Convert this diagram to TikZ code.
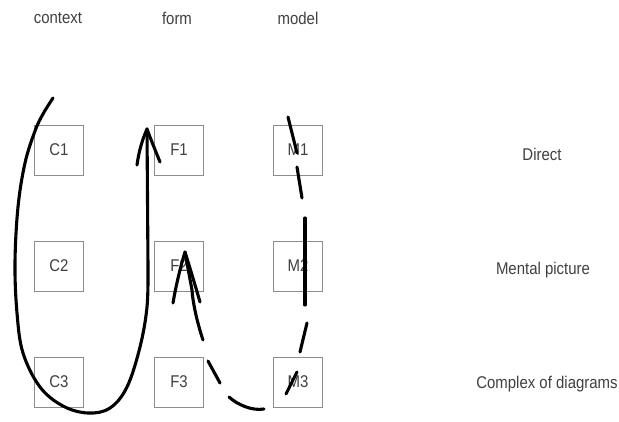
\documentclass[tikz,border=0pt]{standalone}
\usepackage{fontspec}
\setmainfont{Liberation Sans}[FakeStretch=0.88]
\begin{document}
\begin{tikzpicture}[x=1pt,y=-1pt,
  lbl/.style={font=\fontsize{17}{19}\selectfont, text=black!75, inner sep=0pt},
  cell/.style={draw=black!45, line width=0.9pt, minimum width=49pt, minimum height=50pt,
               font=\fontsize{17}{19}\selectfont, text=black!75, inner sep=0pt},
  pen/.style={draw=black, line width=3.1pt, line cap=round, line join=round}]
\useasboundingbox (0,0) rectangle (619,421);

% column headings
\node[lbl] (hc) at (58,18) {context};
\node[lbl] (hf) at (177,18) {form};
\node[lbl] (hm) at (298,18) {model};

% grid of cells
\node[cell] (C1) at (59,150) {C1};
\node[cell] (F1) at (179,150) {F1};
\node[cell] (M1) at (298,150) {M1};
\node[cell] (C2) at (59,266) {C2};
\node[cell] (F2) at (179,266) {F2};
\node[cell] (M2) at (298,266) {M2};
\node[cell] (C3) at (59,382) {C3};
\node[cell] (F3) at (179,382) {F3};
\node[cell] (M3) at (298,382) {M3};

% row labels
\node[lbl] (rd) at (542,154) {Direct};
\node[lbl] (rm) at (543,270) {Mental picture};
\node[lbl] (rc) at (547,384) {Complex of diagrams};

% solid loop around the context column, rising beside the form column
\draw[pen] plot[smooth, tension=0.6] coordinates {
  (53,98) (43,114) (35,131) (25,163) (18,207) (15,263) (17,313) (23,353)
  (40,387) (63,406) (88,413) (110,408) (127,387) (140,347) (147,307) (148,267)}
  -- (147,129);
\draw[pen] (137,165) .. controls (139,150) and (143,138) .. (147,129)
           .. controls (151,140) and (156,152) .. (160,162);

% dashed stroke down the model column, back up into F2
\draw[pen] (288,117) -- (297,153);
\draw[pen] (297,167) -- (302,198);
\draw[pen] (305,218) -- (305,305);
\draw[pen] (307,323) -- (300,352);
\draw[pen] (297,372) -- (286,394);
\draw[pen] (264,409) .. controls (252,411) and (238,405) .. (229,397);
\draw[pen] (220,383) -- (208,361);
\draw[pen] (203,340) .. controls (198,325) and (193,305) .. (192,290) -- (185,252);
\draw[pen] (173,303) .. controls (176,285) and (181,265) .. (185,252)
           .. controls (190,268) and (196,288) .. (200,302);
\end{tikzpicture}
\end{document}
